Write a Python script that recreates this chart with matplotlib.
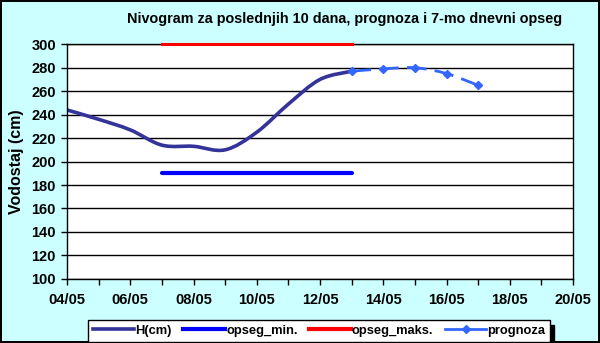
import matplotlib.pyplot as plt
from matplotlib.path import Path
from matplotlib.patches import PathPatch
from matplotlib.lines import Line2D

plt.rcParams['font.family'] = ['Liberation Sans', 'DejaVu Sans']
plt.rcParams['font.weight'] = 'bold'

# water level, days of May
days = [4, 5, 6, 7, 8, 9, 10, 11, 12, 13]
level = [244, 236, 227, 214, 213, 210, 225, 249, 270, 277]

forecast_days = [13, 14, 15, 16, 17]
forecast = [277, 279, 280, 275, 265]

range_days = [7, 13]
range_min = [190, 190]
range_max = [300, 300]

x_ticks = [4, 6, 8, 10, 12, 14, 16, 18, 20]
x_labels = ["04/05", "06/05", "08/05", "10/05", "12/05", "14/05", "16/05", "18/05", "20/05"]

BG = "#CCFFFF"


def smooth_path(xs, ys):
    # Catmull-Rom style bezier through the points, like a spreadsheet "smoothed line"
    pts = list(zip(xs, ys))
    verts = [pts[0]]
    codes = [Path.MOVETO]
    n = len(pts)
    for i in range(n - 1):
        p0 = pts[i - 1] if i > 0 else pts[i]
        p1 = pts[i]
        p2 = pts[i + 1]
        p3 = pts[i + 2] if i + 2 < n else pts[i + 1]
        c1 = (p1[0] + (p2[0] - p0[0]) / 6, p1[1] + (p2[1] - p0[1]) / 6)
        c2 = (p2[0] - (p3[0] - p1[0]) / 6, p2[1] - (p3[1] - p1[1]) / 6)
        verts += [c1, c2, p2]
        codes += [Path.CURVE4] * 3
    return Path(verts, codes)


fig = plt.figure(figsize=(6, 3.43), dpi=100, facecolor=BG)
fig.patch.set_edgecolor("black")
fig.patch.set_linewidth(1.5)
ax = fig.add_axes([0.1117, 0.187, 0.8433, 0.684])
ax.set_facecolor("white")

ax.set_xlim(4, 20)
ax.set_ylim(100, 300)
ax.set_yticks(range(100, 301, 20))
ax.set_xticks(x_ticks)
ax.set_xticklabels(x_labels)
ax.set_xticks(range(4, 21), minor=True)
ax.grid(axis="y", color="black", linewidth=1)
ax.set_axisbelow(True)
for s in ax.spines.values():
    s.set_color("black")
    s.set_linewidth(1)
ax.tick_params(axis="both", which="both", direction="out", length=4, width=1,
               labelsize=10.5, colors="black")
ax.tick_params(axis="x", pad=6)
ax.tick_params(axis="y", pad=4)
for lbl in ax.get_xticklabels() + ax.get_yticklabels():
    lbl.set_fontweight("bold")

ax.set_ylabel("Vodostaj (cm)", fontsize=11.5, fontweight="bold", labelpad=5)

ax.plot(range_days, range_min, color="#0000FF", linewidth=3, solid_capstyle="round")
ax.plot(range_days, range_max, color="#FF0000", linewidth=2.2, clip_on=False, zorder=5)

ax.add_patch(PathPatch(smooth_path(days, level), facecolor="none",
                       edgecolor="#333399", linewidth=2.6, capstyle="round"))
ax.add_patch(PathPatch(smooth_path(forecast_days, forecast), facecolor="none",
                       edgecolor="#3366FF", linewidth=2, linestyle=(0, (7, 3))))
ax.plot(forecast_days, forecast, linestyle="none", marker="D", markersize=4,
        color="#3366FF")

fig.text(0.575, 0.945, "Nivogram za poslednjih 10 dana, prognoza i 7-mo dnevni opseg",
         ha="center", va="center", fontsize=10.4, fontweight="bold")

handles = [
    Line2D([], [], color="#333399", linewidth=2.6),
    Line2D([], [], color="#0000FF", linewidth=3),
    Line2D([], [], color="#FF0000", linewidth=3),
    Line2D([], [], color="#3366FF", linewidth=2, marker="D", markersize=4),
]
labels = ["H(cm)", "opseg_min.", "opseg_maks.", "prognoza"]
leg = fig.legend(handles, labels, loc="center", bbox_to_anchor=(0.532, 0.035),
                 ncol=4, frameon=True,
                 shadow={"color": "black", "alpha": 1, "ox": 3, "oy": -3},
                 fancybox=False, fontsize=9.3, handlelength=3.2,
                 handletextpad=0.1, columnspacing=0.9, borderpad=0.35)
leg.get_frame().set_edgecolor("black")
leg.get_frame().set_linewidth(1)
for t in leg.get_texts():
    t.set_fontweight("bold")

fig.savefig("out.png", dpi=100, facecolor=BG, edgecolor="black")
